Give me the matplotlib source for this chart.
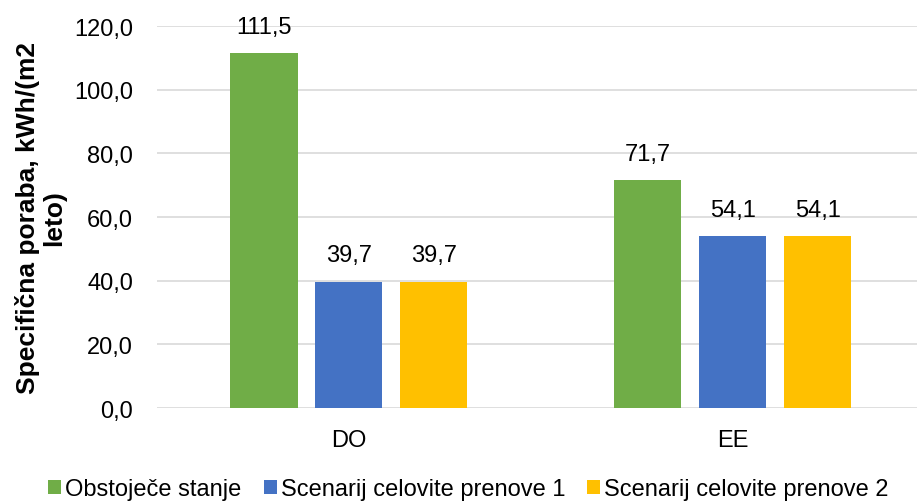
import numpy as np
import matplotlib
matplotlib.use("Agg")
import matplotlib.pyplot as plt
from matplotlib.ticker import FuncFormatter

plt.rcParams['font.family'] = ['Liberation Sans', 'DejaVu Sans']

categories = ["DO", "EE"]
series_names = ["Obstoječe stanje", "Scenarij celovite prenove 1", "Scenarij celovite prenove 2"]
obstojece = [111.5, 71.7]
scenarij1 = [39.7, 54.1]
scenarij2 = [39.7, 54.1]
colors = ["#70AD47", "#4472C4", "#FFC000"]

fig = plt.figure(figsize=(9.17, 5.02), dpi=100)
ax = fig.add_axes([0.171, 0.185, 0.829, 0.761])

x = np.arange(len(categories))
width = 0.175
step = 0.221
for i, (vals, name, col) in enumerate(zip([obstojece, scenarij1, scenarij2], series_names, colors)):
    pos = x + (i - 1) * step
    bars = ax.bar(pos, vals, width, color=col, label=name, zorder=3)
    for b, v in zip(bars, vals):
        ax.annotate(f"{v:.1f}".replace(".", ","), (b.get_x() + b.get_width() / 2, v),
                    xytext=(0, 11), textcoords="offset points", ha="center", va="bottom",
                    fontsize=17, color="#000000")

ax.set_ylim(0, 120)
ax.set_xlim(-0.5, 1.48)
ax.set_yticks(np.arange(0, 121, 20))
ax.yaxis.set_major_formatter(FuncFormatter(lambda v, p: f"{v:.1f}".replace(".", ",")))
ax.set_xticks(x)
ax.set_xticklabels(categories)
ax.tick_params(axis="both", length=0, labelsize=17, colors="#000000")
ax.tick_params(axis="x", pad=15)
ax.tick_params(axis="y", pad=17)
ax.grid(axis="y", color="#D9D9D9", linewidth=1.2, zorder=0)
for s in ax.spines.values():
    s.set_visible(False)

ax.set_ylabel("Specifična poraba, kWh/(m2\nleto)", fontsize=19, fontweight="bold",
              linespacing=1.1, labelpad=6)

ax.legend(loc="center", bbox_to_anchor=(0.41, -0.212), ncol=3, frameon=False,
          fontsize=17, handlelength=0.55, handleheight=0.55, handletextpad=0.17,
          columnspacing=0.93, borderaxespad=0)

fig.savefig("out.png", dpi=100)
